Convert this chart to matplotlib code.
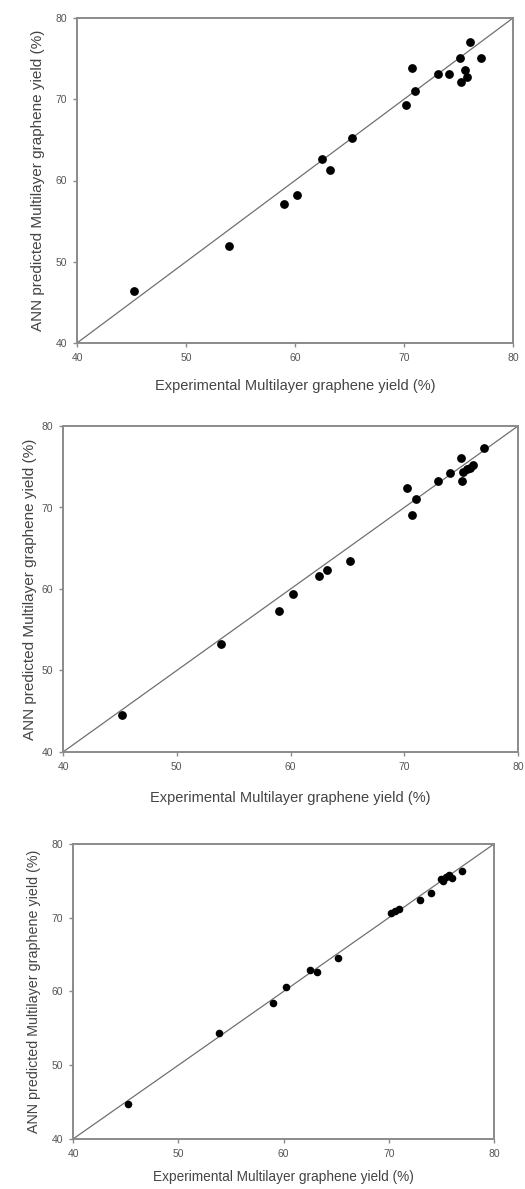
import matplotlib
matplotlib.use("Agg")
from matplotlib import pyplot as plt

plt.rcParams["font.family"] = ["Liberation Sans", "DejaVu Sans"]

# experimental vs ANN predicted yields, one set per panel
exp_1 = [45.2, 53.9, 59.0, 60.2, 62.5, 63.2, 65.2, 70.2, 70.7, 71.0, 73.1, 74.1, 75.1, 75.2, 75.6, 75.8, 76.1, 77.1]
pred_1 = [46.4, 52.0, 57.1, 58.2, 62.6, 61.3, 65.2, 69.3, 73.8, 71.0, 73.1, 73.1, 75.1, 72.1, 73.6, 72.7, 77.1, 75.1]

exp_2 = [45.2, 53.9, 59.0, 60.2, 62.5, 63.2, 65.2, 70.2, 70.7, 71.0, 73.0, 74.0, 75.0, 75.1, 75.2, 75.5, 75.8, 76.0, 77.0]
pred_2 = [44.5, 53.2, 57.3, 59.4, 61.6, 62.3, 63.4, 72.4, 69.1, 71.1, 73.2, 74.2, 76.1, 73.2, 74.4, 74.7, 74.9, 75.2, 77.3]

exp_3 = [45.2, 53.9, 59.0, 60.2, 62.5, 63.2, 65.2, 70.2, 70.6, 71.0, 73.0, 74.0, 75.0, 75.2, 75.4, 75.7, 76.0, 77.0]
pred_3 = [44.7, 54.4, 58.5, 60.6, 62.9, 62.6, 64.5, 70.6, 70.9, 71.2, 72.4, 73.4, 75.3, 75.0, 75.5, 75.8, 75.4, 76.4]

ticks = [40, 50, 60, 70, 80]
xlabel = "Experimental Multilayer graphene yield (%)"
ylabel = "ANN predicted Multilayer graphene yield (%)"

W, H = 525, 1189
fig = plt.figure(figsize=(W / 100, H / 100), dpi=100)

# axes boxes in pixels: left, right, top, bottom
boxes = [(77, 513, 18, 343), (63, 518, 426, 752), (73, 494, 844, 1139)]
# marker size, xlabel pad, ylabel pad, label font size
panels = [(exp_1, pred_1, 28, 12, 8, 10.5),
          (exp_2, pred_2, 28, 14, 3, 10.5),
          (exp_3, pred_3, 20, 8, 8, 9.8)]

for (l, r, t, b), (xs, ys, size, xpad, ypad, fs) in zip(boxes, panels):
    ax = fig.add_axes([l / W, 1 - b / H, (r - l) / W, (b - t) / H])
    ax.plot([40, 80], [40, 80], color="#707070", linewidth=0.9, zorder=1)
    ax.scatter(xs, ys, s=size, color="black", zorder=2)
    ax.set_xlim(40, 80)
    ax.set_ylim(40, 80)
    ax.set_xticks(ticks)
    ax.set_yticks(ticks)
    for sp in ax.spines.values():
        sp.set_color("#8a8a8a")
        sp.set_linewidth(1.4)
    ax.tick_params(direction="out", length=3, width=1, color="#8a8a8a",
                   labelsize=7.5, labelcolor="#555555", pad=4)
    ax.set_xlabel(xlabel, fontsize=fs, color="#444444", labelpad=xpad)
    ax.set_ylabel(ylabel, fontsize=fs + 0.5, color="#444444", labelpad=ypad)

fig.savefig("out.png", dpi=100)
